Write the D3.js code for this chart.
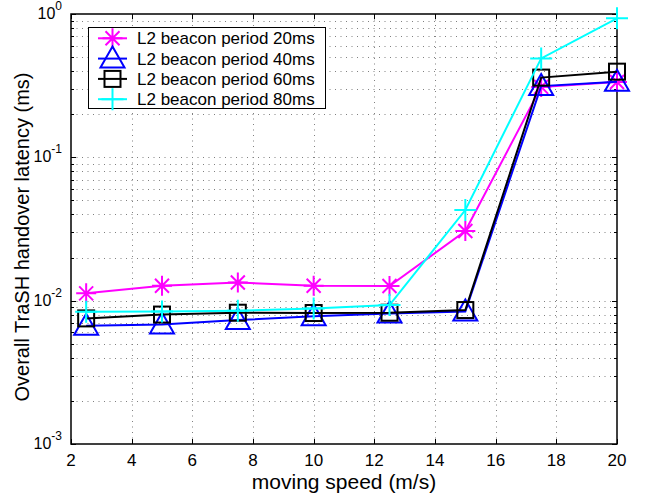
<!DOCTYPE html>
<html>
<head>
<meta charset="utf-8">
<script src="https://cdn.jsdelivr.net/npm/d3@7"></script>
<style>
  body { margin: 0; background: #fff; }
  text { font-family: "Liberation Sans", Arial, sans-serif; fill: #000; }
</style>
</head>
<body>
<script>
// data
const speeds = [2.5, 5, 7.5, 10, 12.5, 15, 17.5, 20];
const period20 = [0.01125, 0.0127, 0.0134, 0.0127, 0.01265, 0.0306, 0.31, 0.335];
const period40 = [0.00668, 0.00683, 0.00732, 0.0078, 0.00815, 0.0084, 0.314, 0.337];
const period60 = [0.00752, 0.0080, 0.00824, 0.0082, 0.00824, 0.0086, 0.36, 0.396];
const period80 = [0.00837, 0.0084, 0.0085, 0.00883, 0.00932, 0.0429, 0.49, 0.933];
const seriesNames = ['L2 beacon period 20ms', 'L2 beacon period 40ms', 'L2 beacon period 60ms', 'L2 beacon period 80ms'];
const xTicks = [2, 4, 6, 8, 10, 12, 14, 16, 18, 20];
const yDecades = [-3, -2, -1, 0];

const series = [
  {name: seriesNames[0], values: period20, color: '#ff00ff', marker: 'star'},
  {name: seriesNames[1], values: period40, color: '#0000ff', marker: 'triangle'},
  {name: seriesNames[2], values: period60, color: '#000000', marker: 'square'},
  {name: seriesNames[3], values: period80, color: '#00ffff', marker: 'plus'}
];

// plot box edges (window.top is taken, so use other names)
const W = 646, H = 499;
const pLeft = 71, pTop = 14, pRight = 617, pBottom = 444;

const svg = d3.select('body').append('svg')
  .attr('width', W).attr('height', H);

const x = d3.scaleLinear().domain([2, 20]).range([pLeft, pRight]);
const y = d3.scaleLog().domain([1e-3, 1]).range([pBottom, pTop]);

// grid lines
const minorY = [];
yDecades.slice(0, 3).forEach(d => {
  for (let k = 1; k <= 9; k++) minorY.push(k * Math.pow(10, d));
});
minorY.push(1);

const grid = svg.append('g').attr('stroke', '#808080').attr('stroke-width', 1)
  .attr('stroke-dasharray', '1,4.5');
grid.selectAll('.gx').data(xTicks.slice(1, -1)).enter().append('line')
  .attr('x1', d => Math.round(x(d)) + 0.5).attr('x2', d => Math.round(x(d)) + 0.5)
  .attr('y1', pTop).attr('y2', pBottom);
grid.selectAll('.gy').data(minorY.filter(v => v > 1e-3 && v < 1)).enter().append('line')
  .attr('x1', pLeft).attr('x2', pRight)
  .attr('y1', d => Math.round(y(d)) + 0.5).attr('y2', d => Math.round(y(d)) + 0.5);

// ticks (inside, on all four sides)
const ticks = svg.append('g').attr('stroke', '#000').attr('stroke-width', 1);
xTicks.forEach(t => {
  const xx = Math.round(x(t)) + 0.5;
  ticks.append('line').attr('x1', xx).attr('x2', xx).attr('y1', pBottom).attr('y2', pBottom - 5);
  ticks.append('line').attr('x1', xx).attr('x2', xx).attr('y1', pTop).attr('y2', pTop + 5);
});
minorY.forEach(v => {
  const len = Number.isInteger(Math.log10(v)) ? 5 : 3;
  const yy = Math.round(y(v)) + 0.5;
  ticks.append('line').attr('x1', pLeft).attr('x2', pLeft + len).attr('y1', yy).attr('y2', yy);
  ticks.append('line').attr('x1', pRight).attr('x2', pRight - len).attr('y1', yy).attr('y2', yy);
});

// frame
svg.append('rect')
  .attr('x', pLeft).attr('y', pTop)
  .attr('width', pRight - pLeft).attr('height', pBottom - pTop)
  .attr('fill', 'none').attr('stroke', '#000').attr('stroke-width', 1.5);

// tick labels
svg.selectAll('.xl').data(xTicks).enter().append('text')
  .attr('x', d => x(d)).attr('y', pBottom + 22)
  .attr('text-anchor', 'middle').attr('font-size', 17)
  .text(d => d);

yDecades.forEach(d => {
  const t = svg.append('text')
    .attr('x', pLeft - 9).attr('y', y(Math.pow(10, d)) + 5)
    .attr('text-anchor', 'end').attr('font-size', 16);
  t.append('tspan').text('10');
  t.append('tspan').attr('dy', -9).attr('font-size', 12).text(d);
});

// axis titles
svg.append('text')
  .attr('x', (pLeft + pRight) / 2).attr('y', 489)
  .attr('text-anchor', 'middle').attr('font-size', 21)
  .text('moving speed (m/s)');
svg.append('text')
  .attr('transform', `translate(29,${(pTop + pBottom) / 2 + 8}) rotate(-90)`)
  .attr('text-anchor', 'middle').attr('font-size', 20)
  .text('Overall TraSH handover latency (ms)');

// marker drawing
function drawMarker(g, type, color) {
  const s = g.append('g').attr('fill', 'none').attr('stroke', color).attr('stroke-width', 2);
  if (type === 'star') {
    s.append('path').attr('d', 'M-10,0H10M0,-10V10M-7,-7L7,7M-7,7L7,-7');
  } else if (type === 'triangle') {
    s.append('path').attr('d', 'M0,-12L12,9H-12Z');
  } else if (type === 'square') {
    s.append('rect').attr('x', -8).attr('y', -8).attr('width', 16).attr('height', 16);
  } else {
    s.append('path').attr('d', 'M-11,0H11M0,-11V11');
  }
}

const line = d3.line().x(d => x(d[0])).y(d => y(d[1]));

series.forEach(s => {
  const pts = speeds.map((v, i) => [v, s.values[i]]);
  svg.append('path').datum(pts)
    .attr('d', line).attr('fill', 'none')
    .attr('stroke', s.color).attr('stroke-width', 2);
  pts.forEach(p => {
    const g = svg.append('g').attr('transform', `translate(${x(p[0])},${y(p[1])})`);
    drawMarker(g, s.marker, s.color);
  });
});

// legend
const lg = svg.append('g');
lg.append('rect')
  .attr('x', 88.5).attr('y', 27.5).attr('width', 237).attr('height', 81)
  .attr('fill', '#fff').attr('stroke', '#000').attr('stroke-width', 1);
series.forEach((s, i) => {
  const cy = 38.3 + i * 20.3;
  lg.append('line').attr('x1', 98).attr('x2', 127).attr('y1', cy).attr('y2', cy)
    .attr('stroke', s.color).attr('stroke-width', 2);
  drawMarker(lg.append('g').attr('transform', `translate(112.5,${cy})`), s.marker, s.color);
  lg.append('text').attr('x', 137).attr('y', cy + 6).attr('font-size', 17).text(s.name);
});
</script>
</body>
</html>
